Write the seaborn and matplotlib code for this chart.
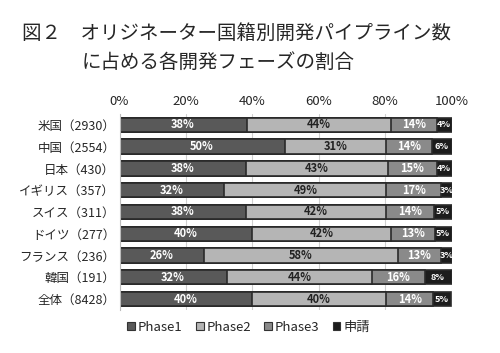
import numpy as np
import pandas as pd
import matplotlib
matplotlib.use('Agg')
import matplotlib.pyplot as plt
import seaborn as sns
from matplotlib.patches import Patch

sns.set_style('white')
plt.rcParams['font.family'] = ['Noto Sans CJK JP', 'DejaVu Sans']

countries = ['米国（2930）', '中国（2554）', '日本（430）', 'イギリス（357）', 'スイス（311）',
             'ドイツ（277）', 'フランス（236）', '韓国（191）', '全体（8428）']
phase1 = [38.3, 49.7, 38.0, 31.6, 38.2, 39.9, 25.6, 32.3, 39.9]
phase2 = [43.6, 30.7, 42.9, 48.7, 42.0, 41.9, 58.2, 43.8, 40.4]
phase3 = [13.7, 13.7, 14.7, 16.6, 14.4, 13.1, 13.1, 15.8, 14.2]
filing = [4.4, 5.9, 4.4, 3.1, 5.4, 5.1, 3.1, 8.1, 5.4]
series = ['Phase1', 'Phase2', 'Phase3', '申請']
colors = ['#595959', '#b5b5b5', '#8a8a8a', '#1c1c1c']
text_colors = ['white', '#222222', 'white', 'white']

df = pd.DataFrame({'country': countries, 'Phase1': phase1, 'Phase2': phase2,
                   'Phase3': phase3, '申請': filing})
cum = df[series].cumsum(axis=1)

fig = plt.figure(figsize=(5, 3.53), dpi=100)
ax = fig.add_axes([0.239, 0.122, 0.664, 0.555])

# stacked bars: draw cumulative totals from the outside in
for s, c in reversed(list(zip(series, colors))):
    sns.barplot(x=cum[s], y=df['country'], color=c, width=0.66,
                edgecolor='#2a2a2a', linewidth=1.2, ax=ax, zorder=2)

# segment labels
for i in range(len(df)):
    left = 0
    for s, tc in zip(series, text_colors):
        v = df.loc[i, s]
        fs = 6.5 if s == '申請' else 8
        ax.text(left + v / 2, i, f'{round(v)}%', ha='center', va='center',
                color=tc, fontsize=fs, fontweight='bold', zorder=3)
        left += v

ax.set_xlim(0, 100)
ax.set_ylim(len(df) - 0.5, -0.5)
ax.set_xticks(range(0, 101, 20))
ax.set_xticklabels([f'{t}%' for t in range(0, 101, 20)], fontsize=9.5)
ax.xaxis.tick_top()
ax.tick_params(axis='x', length=0, pad=4)
ax.tick_params(axis='y', length=0, pad=3, labelsize=9)
ax.set_xlabel('')
ax.set_ylabel('')
ax.grid(axis='x', color='#cfcfcf', linewidth=0.8, zorder=0)
ax.set_axisbelow(True)
for sp in ['top', 'right', 'bottom']:
    ax.spines[sp].set_visible(False)
ax.spines['left'].set_color('#bdbdbd')
ax.spines['left'].set_linewidth(0.8)

handles = [Patch(facecolor=c, edgecolor='#333333', linewidth=0.8) for c in colors]
fig.legend(handles, series, loc='center', bbox_to_anchor=(0.497, 0.073), ncol=4,
           frameon=False, fontsize=9.5, handlelength=0.6, handleheight=0.6,
           handletextpad=0.2, columnspacing=1.0)

fig.text(0.044, 0.905, '図２　オリジネーター国籍別開発パイプライン数', fontsize=14, va='center')
fig.text(0.164, 0.822, 'に占める各開発フェーズの割合', fontsize=14, va='center')

fig.savefig('out.png', dpi=100)
